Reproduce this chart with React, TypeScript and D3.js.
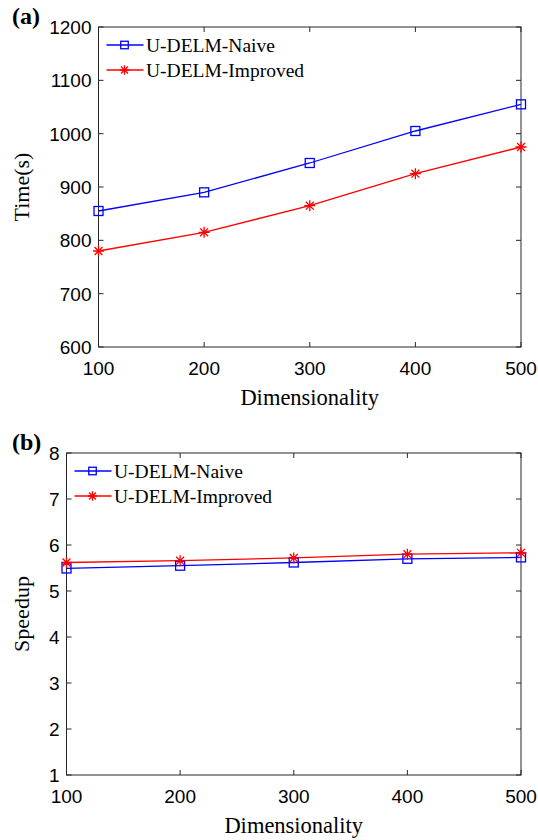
import React from 'react';
import * as d3 from 'd3';

// chart values
const dims = [100, 200, 300, 400, 500];
const timeNaive = [855, 890, 945, 1005, 1055];
const timeImproved = [780, 815, 865, 925, 975];
const speedNaive = [5.49, 5.55, 5.62, 5.7, 5.73];
const speedImproved = [5.62, 5.66, 5.72, 5.8, 5.83];
const timeTicks = [600, 700, 800, 900, 1000, 1100, 1200];
const speedTicks = [1, 2, 3, 4, 5, 6, 7, 8];
const seriesNames = ['U-DELM-Naive', 'U-DELM-Improved'];

const W = 538;
const H = 840;
const BLUE = '#0000ff';
const RED = '#ff0000';
const AXIS = '#262626';
const sans = '"Liberation Sans", Arial, sans-serif';
const serif = '"Liberation Serif", "Times New Roman", serif';

function Square({ x, y, s = 9 }: { x: number; y: number; s?: number }) {
  return <rect x={x - s / 2} y={y - s / 2} width={s} height={s} fill="none" stroke={BLUE} strokeWidth={1.3} />;
}

function Star({ x, y, r = 5.5 }: { x: number; y: number; r?: number }) {
  const d = r * 0.72;
  return (
    <path
      d={`M${x - r},${y}H${x + r}M${x},${y - r}V${y + r}M${x - d},${y - d}L${x + d},${y + d}M${x - d},${y + d}L${x + d},${y - d}`}
      stroke={RED}
      strokeWidth={1.3}
      fill="none"
    />
  );
}

type PanelProps = {
  tag: string;
  top: number;
  bottom: number;
  left: number;
  right: number;
  domain: [number, number];
  yTicks: number[];
  naive: number[];
  improved: number[];
  yLabel: string;
};

function Panel({ tag, top, bottom, left, right, domain, yTicks, naive, improved, yLabel }: PanelProps) {
  const x = d3.scaleLinear().domain([100, 500]).range([left, right]);
  const y = d3.scaleLinear().domain(domain).range([bottom, top]);
  const line = d3
    .line<number>()
    .x((_, i) => x(dims[i]))
    .y((d) => y(d));
  const tl = 5;

  return (
    <g>
      <text x={12} y={top - 3} fontFamily={serif} fontWeight="bold" fontSize={24}>
        {tag}
      </text>
      <rect x={left} y={top} width={right - left} height={bottom - top} fill="#fff" stroke={AXIS} strokeWidth={1} />
      {/* x ticks on bottom and top, pointing in */}
      {dims.map((v) => (
        <g key={'x' + v}>
          <line x1={x(v)} x2={x(v)} y1={bottom} y2={bottom - tl} stroke={AXIS} />
          <line x1={x(v)} x2={x(v)} y1={top} y2={top + tl} stroke={AXIS} />
          <text x={x(v)} y={bottom + 28} textAnchor="middle" fontFamily={sans} fontSize={19} fill="#000">
            {v}
          </text>
        </g>
      ))}
      {/* y ticks left and right */}
      {yTicks.map((v) => (
        <g key={'y' + v}>
          <line x1={left} x2={left + tl} y1={y(v)} y2={y(v)} stroke={AXIS} />
          <line x1={right} x2={right - tl} y1={y(v)} y2={y(v)} stroke={AXIS} />
          <text x={left - 7} y={y(v) + 7} textAnchor="end" fontFamily={sans} fontSize={19} fill="#000">
            {v}
          </text>
        </g>
      ))}
      <text x={(left + right) / 2} y={bottom + 58} textAnchor="middle" fontFamily={serif} fontSize={22.5}>
        Dimensionality
      </text>
      <text
        transform={`translate(29,${(top + bottom) / 2}) rotate(-90)`}
        textAnchor="middle"
        fontFamily={serif}
        fontSize={22}
      >
        {yLabel}
      </text>

      <path d={line(naive) || ''} fill="none" stroke={BLUE} strokeWidth={1.3} />
      <path d={line(improved) || ''} fill="none" stroke={RED} strokeWidth={1.3} />
      {naive.map((v, i) => (
        <Square key={'n' + i} x={x(dims[i])} y={y(v)} />
      ))}
      {improved.map((v, i) => (
        <Star key={'m' + i} x={x(dims[i])} y={y(v)} />
      ))}

      {/* legend, no box */}
      {seriesNames.map((name, i) => {
        const ly = top + 18 + i * 25;
        return (
          <g key={name}>
            <line x1={left + 8} x2={left + 45} y1={ly} y2={ly} stroke={i === 0 ? BLUE : RED} strokeWidth={1.3} />
            {i === 0 ? <Square x={left + 26} y={ly} s={7.5} /> : <Star x={left + 26} y={ly} r={4.8} />}
            <text x={left + 47.5} y={ly + 7} fontFamily={serif} fontSize={19.5} fill="#000">
              {name}
            </text>
          </g>
        );
      })}
    </g>
  );
}

export default function App() {
  return (
    <svg width={W} height={H} style={{ position: 'absolute', left: 0, top: 0, background: '#fff' }}>
      <rect width={W} height={H} fill="#fff" />
      <Panel
        tag="(a)"
        top={27}
        bottom={347}
        left={98.5}
        right={521}
        domain={[600, 1200]}
        yTicks={timeTicks}
        naive={timeNaive}
        improved={timeImproved}
        yLabel="Time(s)"
      />
      <Panel
        tag="(b)"
        top={453}
        bottom={775}
        left={66.5}
        right={521}
        domain={[1, 8]}
        yTicks={speedTicks}
        naive={speedNaive}
        improved={speedImproved}
        yLabel="Speedup"
      />
    </svg>
  );
}
